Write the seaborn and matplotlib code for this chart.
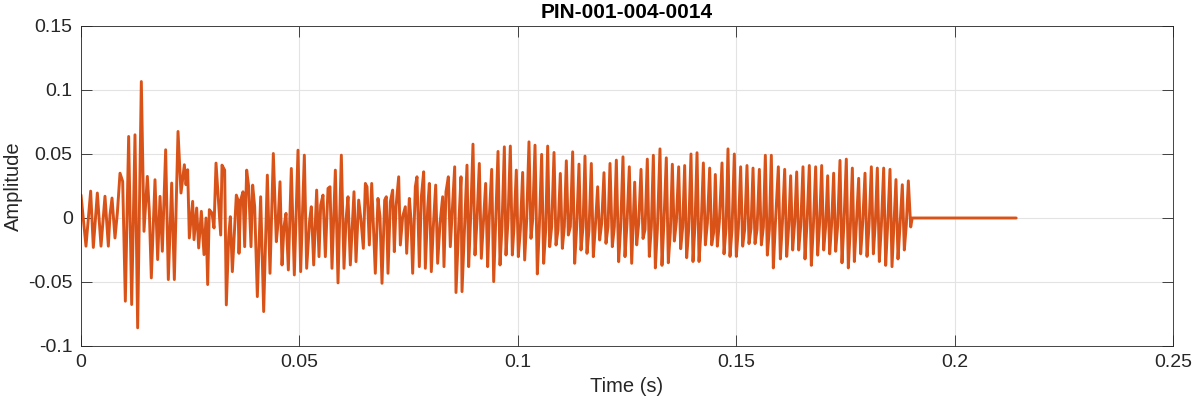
import numpy as np
import pandas as pd
import matplotlib
matplotlib.use("Agg")
import matplotlib.pyplot as plt
import seaborn as sns

# ---------------- data ----------------
title = "PIN-001-004-0014"
x_ticks = [0, 0.05, 0.1, 0.15, 0.2, 0.25]
x_tick_labels = ["0", "0.05", "0.1", "0.15", "0.2", "0.25"]
y_ticks = [-0.1, -0.05, 0, 0.05, 0.1, 0.15]
y_tick_labels = ["-0.1", "-0.05", "0", "0.05", "0.1", "0.15"]

# irregular onset part: vertices (time in ms, amplitude)
seg1_t = [0.00, 1.14, 2.21, 2.82, 3.74, 4.58, 5.49, 6.26, 6.64, 7.10, 7.78, 8.32, 8.93, 9.54,
          10.15, 10.91, 11.60, 12.36, 12.97, 13.81, 14.42, 15.19, 15.64, 16.10, 16.94, 17.55,
          18.09, 18.62, 19.38, 19.99, 20.76, 21.37, 22.21, 22.89, 23.66, 24.04, 24.42, 24.80,
          25.56, 25.87, 26.48, 26.94, 27.55, 28.16, 28.62, 29.00, 29.38, 29.99, 30.45, 30.91]
seg1_a = [0.018, -0.022, 0.021, -0.023, 0.0195, -0.022, 0.017, -0.022, 0.0026, 0.0156, -0.0156,
          0.0039, 0.035, 0.0286, -0.065, 0.0637, -0.0676, 0.065, -0.0858, 0.1066, -0.0104, 0.0325,
          0.0052, -0.0468, 0.0299, -0.0325, 0.0169, -0.026, 0.0533, -0.0481, 0.0273, -0.0481,
          0.0676, 0.0195, 0.0416, 0.026, 0.0377, -0.0156, 0.013, -0.0169, 0.0078, -0.0234,
          0.0052, -0.0286, 0.0, -0.052, 0.0065, 0.0039, -0.0078, 0.0429]

seg2_t = [31.98, 32.28, 32.89, 33.27, 33.81, 34.19, 34.65, 35.18, 35.56, 35.94, 36.17, 36.55,
          37.09, 37.47, 37.93, 38.39, 38.92, 39.30, 39.76, 40.37, 41.13, 41.82, 42.66, 43.27,
          44.03, 44.72, 45.10, 45.56, 46.02, 46.47, 46.93, 47.47, 48.15, 48.84, 49.68, 50.29,
          51.13, 51.66, 52.35, 52.73, 53.27, 53.95, 54.49, 54.87, 55.40, 55.94, 56.55, 57.01,
          57.46, 58.23, 58.84, 59.60, 60.21, 60.67, 61.13, 61.66, 62.50]
seg2_a = [-0.0133, 0.0413, 0.0374, -0.0679, -0.0146, 0.001, -0.0419, -0.0068, 0.0179, 0.014,
          -0.0276, 0.014, 0.0205, -0.0224, 0.0374, 0.0244, -0.0224, 0.0257, 0.0088, -0.0614,
          0.0166, -0.0731, 0.0335, -0.0432, 0.0504, -0.0185, -0.0042, 0.0283, -0.0367, -0.0068,
          0.0036, -0.0406, 0.0387, -0.0445, 0.053, -0.0419, 0.0491, -0.0393, -0.0016, 0.0088,
          -0.0367, 0.0218, -0.0302, 0.0101, 0.0179, -0.0302, 0.0231, 0.0244, -0.0393, 0.0374,
          -0.0507, 0.0491, -0.0393, -0.0016, 0.0166, -0.0367, 0.0205]

seg3_t = [62.96, 63.57, 64.10, 64.64, 65.10, 65.48, 66.01, 66.55, 66.93, 67.38, 67.99, 68.45,
          68.91, 69.52, 69.90, 70.28, 70.82, 71.35, 71.73, 72.12, 72.73, 73.11, 73.64, 74.25,
          74.56, 75.17, 75.55, 75.93, 76.54, 76.92, 77.46, 77.92, 78.45, 78.83, 79.37, 79.75,
          80.20, 80.66, 81.20, 81.65, 82.19, 82.80, 83.10, 83.56, 84.10, 84.55, 85.09, 85.55,
          85.85, 86.46, 87.00, 87.23, 87.84, 88.37, 88.75, 89.21, 89.74, 90.20, 90.66, 91.19,
          91.65, 92.11, 92.64, 93.10, 93.48, 94.02, 94.48]
seg3_a = [-0.0341, 0.014, -0.0016, -0.0237, 0.027, 0.0244, -0.0211, 0.027, -0.0042, -0.0432,
          0.0153, 0.001, -0.051, 0.014, 0.0166, -0.0432, 0.0127, 0.0218, -0.0263, 0.0088, 0.0322,
          -0.0211, 0.001, 0.0088, -0.0276, 0.0153, -0.0016, -0.0432, 0.0244, 0.0322, -0.038,
          0.0166, 0.0361, -0.0393, 0.0075, 0.027, -0.0419, -0.0068, 0.0257, -0.0354, -0.0042,
          0.0166, -0.038, 0.0205, 0.0322, -0.0224, 0.0114, 0.04, -0.0582, -0.0068, 0.0322,
          -0.0575, -0.0042, 0.0413, -0.038, 0.001, 0.0577, -0.0289, -0.0016, 0.0426, -0.0315,
          -0.0042, 0.027, -0.038, 0.001, 0.038, -0.0497]

seg4_t = [95.01, 95.47, 95.93, 96.38, 96.92, 97.30, 97.76, 98.29, 98.75, 99.13, 99.66, 100.12,
          100.58, 101.11, 101.57, 102.03, 102.56, 103.02, 103.40, 103.94, 104.47, 104.93, 105.46,
          105.92, 106.38, 106.84, 107.30, 107.75, 108.29, 108.75, 109.20, 109.74, 110.20, 110.65,
          111.11, 111.57, 112.03, 112.56, 113.02, 113.48, 114.01, 114.47, 114.93, 115.38, 115.84,
          116.30, 116.83, 117.29, 117.75, 118.28, 118.74, 119.20, 119.73, 120.19, 120.65, 121.11,
          121.64, 122.10, 122.56, 123.09, 123.55, 124.08, 124.54, 125.00, 125.53, 126.07, 126.40]
seg4_a = [0.0036, 0.052, -0.0367, -0.0068, 0.0556, -0.0289, -0.0016, 0.0562, -0.0289, -0.0068,
          0.0374, -0.0302, -0.0094, 0.0356, -0.0328, -0.0016, 0.0595, -0.0159, -0.0016, 0.0569,
          -0.0437, -0.0068, 0.0497, -0.0354, -0.0094, 0.0562, -0.0224, -0.0068, 0.0512, -0.0211,
          -0.0094, 0.0348, -0.0237, -0.0068, 0.0447, -0.0133, -0.0068, 0.0517, -0.0354, -0.0068,
          0.0421, -0.025, -0.0068, 0.0484, -0.0276, -0.0094, 0.0426, -0.0302, -0.0068, 0.0244,
          -0.0172, -0.0042, 0.0354, -0.0198, -0.0068, 0.0426, -0.0224, -0.0068, 0.0452, -0.0341,
          -0.0068, 0.0478, -0.0302, -0.0042, 0.04, -0.0354, -0.006]

# regular voiced part: one peak, trough and near-zero point per pitch cycle
peak_t = [126.76, 128.21, 129.65, 131.03, 132.55, 134.00, 135.38, 136.83, 138.20, 139.65,
          141.03, 142.48, 143.93, 145.22, 146.75, 148.12, 149.57, 151.02, 152.47, 153.85,
          155.30, 156.67, 158.04, 159.65, 161.10, 162.47, 163.85, 165.29, 166.74, 168.19,
          169.57, 170.94, 172.31, 173.76, 175.21, 176.59, 178.04, 179.49, 180.94, 182.31,
          183.76, 185.21, 186.58, 188.03, 189.41]
peak_v = [0.028, 0.038, 0.046, 0.049, 0.054, 0.047, 0.042, 0.040, 0.041, 0.050, 0.051, 0.043,
          0.039, 0.034, 0.043, 0.054, 0.050, 0.040, 0.041, 0.039, 0.038, 0.049, 0.049, 0.040,
          0.038, 0.033, 0.036, 0.040, 0.041, 0.040, 0.041, 0.033, 0.035, 0.045, 0.046, 0.039,
          0.031, 0.035, 0.040, 0.039, 0.039, 0.038, 0.030, 0.026, 0.029]
trough_t = [127.22, 128.67, 130.11, 131.49, 133.01, 134.46, 135.84, 137.29, 138.66, 140.11,
            141.49, 142.94, 144.39, 145.68, 147.21, 148.58, 150.03, 151.48, 152.93, 154.31,
            155.76, 157.13, 158.50, 160.11, 161.56, 162.93, 164.31, 165.75, 167.20, 168.65,
            170.03, 171.40, 172.77, 174.22, 175.67, 177.05, 178.50, 179.95, 181.40, 182.77,
            184.22, 185.67, 187.04, 188.49, 189.95]
trough_v = [-0.021, -0.016, -0.030, -0.039, -0.037, -0.035, -0.018, -0.024, -0.031, -0.034,
            -0.034, -0.021, -0.021, -0.022, -0.028, -0.030, -0.030, -0.022, -0.020, -0.020,
            -0.021, -0.029, -0.039, -0.032, -0.030, -0.025, -0.025, -0.032, -0.037, -0.029,
            -0.025, -0.028, -0.026, -0.035, -0.039, -0.034, -0.028, -0.030, -0.028, -0.034,
            -0.037, -0.038, -0.032, -0.025, -0.007]
mid_t = [127.68, 129.13, 130.57, 131.95, 133.47, 134.92, 136.30, 137.75, 139.12, 140.57,
         141.95, 143.40, 144.85, 146.14, 147.67, 149.04, 150.49, 151.94, 153.39, 154.77,
         156.22, 157.59, 158.96, 160.57, 162.02, 163.39, 164.77, 166.21, 167.66, 169.11,
         170.49, 171.86, 173.23, 174.68, 176.13, 177.51, 178.96, 180.41, 181.86, 183.23,
         184.68, 186.13, 187.50, 188.95, 190.30]
mid_v = [-0.004, -0.009, -0.007, -0.009, -0.002, -0.011, -0.003, -0.007, -0.009, -0.005,
         -0.009, -0.004, -0.011, -0.003, -0.008, -0.009, -0.008, -0.009, -0.008, -0.009,
         -0.007, -0.009, -0.005, -0.004, -0.006, -0.003, -0.006, -0.004, -0.007, -0.003,
         -0.006, -0.004, -0.006, -0.003, -0.007, -0.005, -0.004, -0.006, -0.003, -0.006,
         -0.005, -0.004, -0.006, -0.005, 0.0]

# silent tail
tail_t = [214.10]
tail_a = [0.0]

# ---------------- assemble ----------------
voiced_t, voiced_a = [], []
for pt, pv, tt, tv, mt, mv in zip(peak_t, peak_v, trough_t, trough_v, mid_t, mid_v):
    voiced_t += [pt, tt, mt]
    voiced_a += [pv, tv, mv]

t_ms = seg1_t + seg2_t + seg3_t + seg4_t + voiced_t + tail_t
amp = seg1_a + seg2_a + seg3_a + seg4_a + voiced_a + tail_a
df = pd.DataFrame({"Time (s)": np.array(t_ms) / 1000.0, "Amplitude": amp})

# ---------------- plot ----------------
sns.set_theme(style="white")
plt.rcParams["font.family"] = ["Liberation Sans", "DejaVu Sans"]

W, H = 1193, 404
fig = plt.figure(figsize=(W / 100, H / 100), dpi=100)
ax = fig.add_axes([81 / W, 1 - 346 / H, (1173 - 81) / W, (346 - 26) / H])

sns.lineplot(data=df, x="Time (s)", y="Amplitude", ax=ax, color="#D95319",
             linewidth=2.1, estimator=None, sort=False)

ax.set_xlim(0, 0.25)
ax.set_ylim(-0.1, 0.15)
ax.set_xticks(x_ticks)
ax.set_xticklabels(x_tick_labels)
ax.set_yticks(y_ticks)
ax.set_yticklabels(y_tick_labels)

ax.grid(True, color="#e3e3e3", linewidth=0.8)
ax.set_axisbelow(True)
for s in ax.spines.values():
    s.set_color("#262626")
    s.set_linewidth(0.6)
    s.set_visible(True)
ax.tick_params(direction="in", length=8, width=0.6, color="#262626",
               labelsize=14, labelcolor="#262626", top=True, right=True,
               bottom=True, left=True, pad=6)

ax.set_xlabel("Time (s)", fontsize=14.5, color="#262626", labelpad=4)
ax.set_ylabel("Amplitude", fontsize=14.5, color="#262626", labelpad=4)
ax.set_title(title, fontsize=15, fontweight="bold", color="black", pad=6)

fig.savefig("out.png", dpi=100)
